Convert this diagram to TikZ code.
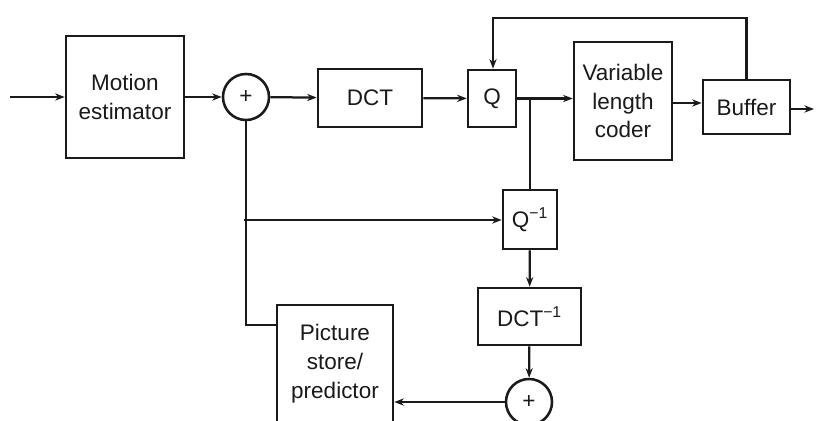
\documentclass[tikz,border=0pt]{standalone}
\usepackage{fontspec}
\setmainfont{Liberation Sans}
\usetikzlibrary{arrows.meta,positioning,calc}
\definecolor{MPInk}{HTML}{1A1A1A}
\tikzset{
  flow/.style={-{Stealth[length=2.4mm,width=1.8mm]},MPInk,line width=1.6pt},
  wire/.style={MPInk,line width=1.6pt},
  block/.style={draw=MPInk,line width=1.8pt,fill=white,text=MPInk,align=center,
                inner sep=0pt,font=\fontsize{16}{20.5}\selectfont},
  summer/.style={circle,draw=MPInk,line width=1.8pt,fill=white,text=MPInk,
                 minimum size=1.15cm,inner sep=0pt,font=\fontsize{16}{18}\selectfont},
}

\begin{document}
\begin{tikzpicture}[x=.025cm,y=-.025cm]
    \useasboundingbox (0,0) rectangle (816,421);
    \clip (0,0) rectangle (816,421);

    % forward path
    \node[block,minimum width=2.95cm,minimum height=3.05cm] (motion) at (125,97)
      {Motion\\estimator};
    \node[summer] (sumA) at (246,97) {+};
    \node[block,minimum width=2.6cm,minimum height=1.45cm] (dct) at (370,98) {DCT};
    \node[block,minimum width=1.2cm,minimum height=1.425cm] (quant) at (492,98.5) {Q};
    \node[block,minimum width=2.45cm,minimum height=2.95cm] (vlc) at (623,101)
      {Variable\\length\\coder};
    \node[block,minimum width=2.175cm,minimum height=1.35cm] (buffer) at (746.5,107) {Buffer};

    % reconstruction loop
    \node[block,minimum width=1.35cm,minimum height=1.475cm] (iquant) at (530,219.5)
      {Q\textsuperscript{−1}};
    \node[block,minimum width=2.575cm,minimum height=1.425cm] (idct) at (529.5,316.5)
      {DCT\textsuperscript{−1}};
    \node[summer] (sumB) at (529,402) {+};
    \node[block,minimum width=2.9cm,minimum height=2.95cm] (store) at (335,364)
      {Picture\\store/\\predictor};

    \coordinate (input) at (10,97);
    \coordinate (output) at (814,109);
    \coordinate (tap) at (530,98.5);
    \coordinate (rate) at (493,18);
    \coordinate (loopin) at (244,220);
    \coordinate (storein) at (277,325);

    \draw[flow] (input) -- (motion);
    \draw[flow] (motion) -- (sumA);
    \draw[flow] (sumA) -- (dct);
    \draw[flow] (dct) -- (quant);
    \draw[flow] (quant) -- (vlc.west |- quant);
    \draw[flow] (vlc.east |- 0,103) -- (buffer.west |- 0,103);
    \draw[flow] (buffer.east |- output) -- (output);
    \draw[flow] (buffer.north) |- (rate) -- (quant.north -| rate);
    \draw[wire] (tap) -- (iquant.north);
    \draw[wire] (storein) -| (sumA.south);
    \draw[flow] (loopin) -- (iquant.west |- loopin);
    \draw[flow] (iquant) -- (idct);
    \draw[flow] (idct) -- (sumB);
    \draw[flow] (sumB.west) -- (sumB.west -| store.east);
  \end{tikzpicture}
\end{document}
